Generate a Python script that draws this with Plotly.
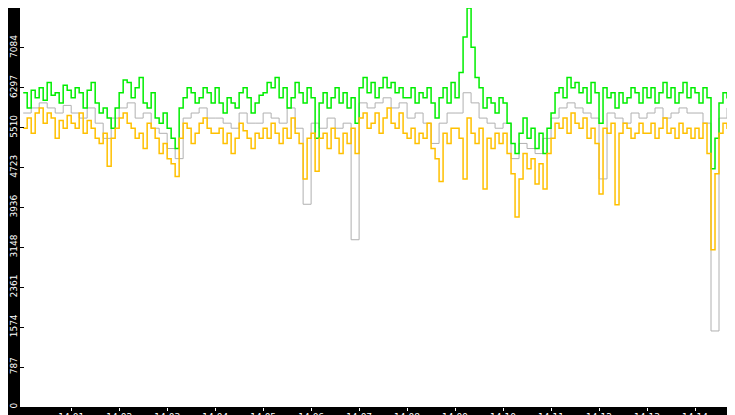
import pandas as pd
import plotly.graph_objects as go

# values, 5 s steps (green/orange), 10 s steps (grey)
green = [
    6200, 5900, 6250, 6100, 6300, 6050, 6400, 6150, 6200, 6000, 6350, 6250,
    6100, 6300, 6200, 5900, 6250, 6400, 6000, 5800, 5900, 5700, 5500, 5900,
    6200, 6450, 6400, 6100, 6300, 6500, 6000, 5900, 6200, 5700, 5600, 5800,
    5500, 5300, 5100, 5900, 6100, 6300, 6200, 6000, 6100, 6300, 6200, 6000,
    6300, 6000, 5800, 6100, 6000, 5900, 6200, 6300, 6100, 5800, 6000, 6150,
    6200, 6400, 6300, 6500, 6100, 6300, 5900, 6100, 6400, 6200, 6000, 6300,
    6100, 5300, 6000, 6200, 5900, 6100, 6300, 6000, 6200, 5900, 6100, 5600,
    6300, 6500, 6200, 6400, 6100, 6300, 6500, 6300, 6400, 6200, 6300, 6100,
    6100, 6300, 6000, 6200, 6100, 6300, 6000, 5700, 6100, 6300, 6000, 6400,
    6100, 6600, 7300, 7872, 7100, 6500, 6300, 5900, 6100, 6000, 5800, 6100,
    6000, 5600, 5200, 5000, 5400, 5700, 5300, 5500, 5100, 5400, 5000, 5500,
    5800, 6200, 6300, 6100, 6500, 6300, 6400, 6200, 6300, 6000, 6400, 6200,
    5600, 6300, 6100, 6200, 5900, 6200, 6000, 6100, 6300, 6200, 6000, 6300,
    6100, 6300, 6000, 6200, 6400, 6100, 6300, 6000, 6200, 6400, 6100, 6300,
    6200, 6000, 6300, 6100, 4700, 5300, 6000, 6200, 6100, 6500, 6300, 6200,
    5700,
]
orange = [
    5500, 5700, 5400, 5800, 5900, 5600, 5800, 5700, 5300, 5650, 5500, 5750,
    5600, 5500, 5800, 5400, 5650, 5500, 5300, 5200, 5400, 4750, 5300, 5500,
    5700, 5800, 5600, 5500, 5300, 5400, 5100, 5600, 5500, 5300, 5000, 5200,
    4900, 4800, 4550, 5300, 5600, 5500, 5200, 5400, 5600, 5700, 5500, 5400,
    5400, 5500, 5200, 5400, 5000, 5300, 5600, 5450, 5300, 5100, 5400, 5300,
    5500, 5300, 5600, 5400, 5200, 5500, 5300, 5700, 5400, 5200, 4500, 5300,
    5400, 4650, 5300, 5400, 5100, 5500, 5300, 5000, 5400, 5200, 5500, 5000,
    5700, 5800, 5500, 5600, 5800, 5400, 5700, 5900, 5600, 5500, 5800, 5400,
    5300, 5500, 5200, 5400, 5300, 5600, 5100, 4900, 4450, 5400, 5200, 5500,
    5500, 5300, 4500, 5700, 5400, 5200, 5500, 4300, 5300, 5100, 5400, 5200,
    5400, 5000, 4600, 3750, 4500, 5000, 4700, 4900, 4400, 4800, 4300, 5000,
    5300, 5600, 5500, 5700, 5400, 5800, 5600, 5500, 5700, 5300, 5500, 5200,
    4200, 5500, 5400, 5600, 3990, 5400, 5600, 5500, 5300, 5400, 5600, 5400,
    5400, 5600, 5300, 5500, 5700, 5400, 5500, 5300, 5600, 5400, 5500, 5300,
    5500, 5300, 5600, 5000, 3100, 4600, 5400, 5600, 5500, 5700, 5500, 5600,
    0,
]
grey = [
    5800, 5900, 6000, 5900, 5800, 5950,
    5800, 5700, 5900, 5600, 5300, 5700,
    5900, 6000, 5700, 5800, 5500, 5400,
    5100, 4900, 5700, 5800, 5900, 5700,
    5700, 5600, 5500, 5800, 5600, 5600,
    5800, 5700, 5600, 5900, 5500, 4000,
    5600, 5500, 5700, 5500, 5600, 3300,
    6000, 5900, 6000, 6100, 5900, 6000,
    5700, 5800, 5600, 5200, 5600, 5800,
    5800, 6200, 6000, 5700, 5600, 5500,
    5600, 4900, 5200, 5100, 5000, 5300,
    5700, 5900, 6000, 5900, 5800, 5700,
    4500, 5800, 5700, 5600, 5800, 5700,
    5800, 5900, 5700, 5800, 5900, 5800,
    5800, 5600, 1500, 5700, 5900, 5900,
    2600,
]
y_ticks = [0, 787, 1574, 2361, 3148, 3936, 4723, 5510, 6297, 7084, 7872]
x_ticks = ["14:01", "14:02", "14:03", "14:04", "14:05", "14:06", "14:07",
           "14:08", "14:09", "14:10", "14:11", "14:12", "14:13", "14:14"]

t_fast = pd.date_range("2024-01-01 14:00:00", periods=len(green), freq="5s")
t_slow = pd.date_range("2024-01-01 14:00:00", periods=len(grey), freq="10s")
tick_vals = [pd.Timestamp("2024-01-01 " + t) for t in x_ticks]

fig = go.Figure()
fig.add_trace(go.Scatter(x=t_slow, y=grey, mode="lines", line_shape="hv",
                         line=dict(color="#b0b0b0", width=1)))
fig.add_trace(go.Scatter(x=t_fast, y=green, mode="lines", line_shape="hv",
                         line=dict(color="#00ee00", width=1.5)))
fig.add_trace(go.Scatter(x=t_fast, y=orange, mode="lines", line_shape="hv",
                         line=dict(color="#ffc000", width=1.5)))

fig.update_layout(
    width=735, height=415, showlegend=False,
    margin=dict(l=12, r=0, t=0, b=16),
    paper_bgcolor="black", plot_bgcolor="white",
    font=dict(family="DejaVu Sans", size=9, color="white"),
)
fig.update_xaxes(
    range=[pd.Timestamp("2024-01-01 13:59:56"), pd.Timestamp("2024-01-01 14:15:00")],
    tickvals=tick_vals, ticktext=x_ticks, showgrid=False, zeroline=False,
    ticks="outside", ticklen=3, tickcolor="white", ticklabelstandoff=-2,
)
fig.update_yaxes(
    range=[0, 7872], tickvals=y_ticks, ticktext=[str(v) for v in y_ticks],
    tickangle=-90, showgrid=False, zeroline=False,
    ticks="inside", ticklen=4, tickcolor="black",
)

fig.write_html("out.html")
